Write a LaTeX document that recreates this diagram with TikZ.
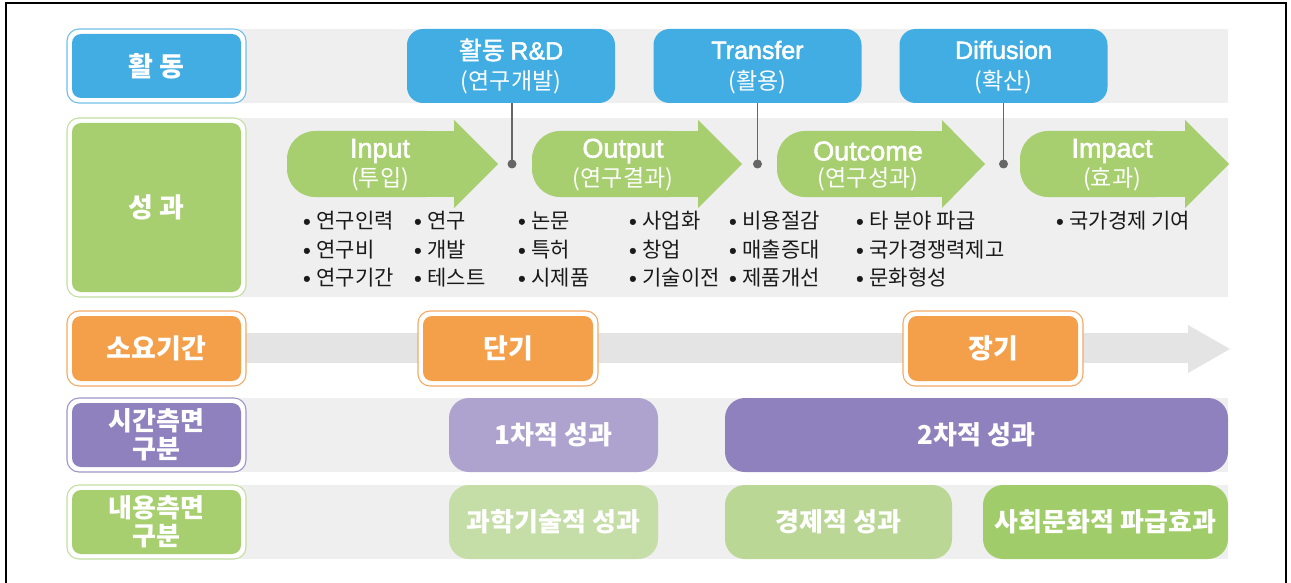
\documentclass[tikz,border=0pt]{standalone}
\usepackage{fontspec}
\setmainfont{Noto Sans CJK KR}
\newfontfamily\lat{Liberation Sans}[FakeBold=2]
\newfontfamily\krm{Noto Sans CJK KR}[FakeBold=1.5]
\definecolor{cblue}{HTML}{42ADE2}
\definecolor{cbluel}{HTML}{6FBFE8}
\definecolor{cgreen}{HTML}{A7CF70}
\definecolor{cgreenl}{HTML}{C3DEA2}
\definecolor{corange}{HTML}{F4A04B}
\definecolor{corangel}{HTML}{F2AA66}
\definecolor{cpurple}{HTML}{8E81BD}
\definecolor{cpurplel}{HTML}{9F95C8}
\definecolor{cpurplelt}{HTML}{ADA3CE}
\definecolor{cgreenpale}{HTML}{C5DDA6}
\definecolor{cgreenmid}{HTML}{BAD795}
\definecolor{cgreenstr}{HTML}{A1CC6A}
\definecolor{cband}{HTML}{EFEFEF}
\definecolor{carrowgray}{HTML}{E4E4E4}
\definecolor{cline}{HTML}{666666}
\definecolor{ctext}{HTML}{1A1A1A}
\newcommand\hdrfont{\fontsize{27}{30}\selectfont\bfseries}
\newcommand\twofont{\fontsize{26}{28}\selectfont\bfseries}
\newcommand\catfont{\fontsize{26}{30}\selectfont\bfseries}
\newcommand\bulfont{\fontsize{21}{25}\selectfont}
\newcommand\boxtopfont{\fontsize{25}{30}\selectfont}
\newcommand\boxsubfont{\fontsize{23}{27}\selectfont}
\newcommand\arrlfont{\fontsize{27}{32}\selectfont}
\newcommand\garrow[3]{%
  \fill[cgreen, rounded corners=28pt] (#1,131) rectangle (#2,197);
  \fill[cgreen] (#2-30,131) rectangle (#2,197);
  \fill[cgreen] (#2,120) -- (#3,164) -- (#2,208) -- cycle;}
\begin{document}
\begin{tikzpicture}[x=1pt,y=-1pt,
  labo/.style={draw=#1, fill=white, line width=1.1pt, rounded corners=12pt, minimum width=179pt, minimum height=74pt, inner sep=0pt},
  labi/.style={fill=#1, rounded corners=9pt, minimum width=169pt, minimum height=64pt, inner sep=0pt, text=white, align=center, font=\hdrfont},
  bluebox/.style={fill=cblue, rounded corners=16pt, minimum width=208pt, minimum height=74pt, inner sep=0pt},
  wtext/.style={text=white, inner sep=0pt},
  bul/.style={anchor=west, inner sep=0pt, text=ctext, font=\bulfont},
  dotn/.style={circle, fill=cline, minimum size=9pt, inner sep=0pt},
  conn/.style={draw=cline, line width=1.5pt},
  catbox/.style={rounded corners=20pt, minimum height=74pt, inner sep=0pt, text=white, font=\catfont}
]
\useasboundingbox (0,0) rectangle (1291,583);
% frame
\draw[line width=2pt] (5.5,583) -- (5.5,3.5) -- (1286,3.5) -- (1286,583);

% bands
\fill[cband] (240,29) rectangle (1228,103);
\fill[cband] (240,118) rectangle (1228,297);
\fill[cband] (240,398) rectangle (1228,472);
\fill[cband] (240,485) rectangle (1228,559);
% gray time arrow
\fill[carrowgray] (240,333) rectangle (1189,363);
\fill[carrowgray] (1188,325) -- (1230,349) -- (1188,373) -- cycle;

% row labels
\node[labo=cbluel] (l1o) at (156.5,66) {};
\node[labi=cblue] (l1) at (156.5,66) {활 동};
\node[labo=cgreenl, minimum height=179pt] (l2o) at (156.5,207.5) {};
\node[labi=cgreen, minimum height=169pt] (l2) at (156.5,207.5) {성 과};
\node[labo=corangel, minimum height=75pt] (l3o) at (156.5,348.5) {};
\node[labi=corange, minimum height=65pt] (l3) at (156.5,348.5) {소요기간};
\node[labo=cpurplel] (l4o) at (156.5,435) {};
\node[labi=cpurple, font=\twofont] (l4) at (156.5,435) {시간측면\\구분};
\node[labo=cgreenl] (l5o) at (156.5,522) {};
\node[labi=cgreen, font=\twofont] (l5) at (156.5,522) {내용측면\\구분};

% activity boxes
\node[bluebox] (rd) at (511,66) {};
\node[wtext, font=\boxtopfont] (rdt) at (511,50) {{\krm 활동} {\lat R\&D}};
\node[wtext, font=\boxsubfont] (rds) at (511,82) {(연구개발)};
\node[bluebox] (tr) at (757.5,66) {};
\node[wtext, font=\boxtopfont\lat] (trt) at (757.5,50) {Transfer};
\node[wtext, font=\boxsubfont] (trs) at (757.5,82) {(활용)};
\node[bluebox] (df) at (1003.5,66) {};
\node[wtext, font=\boxtopfont\lat] (dft) at (1003.5,50) {Diffusion};
\node[wtext, font=\boxsubfont] (dfs) at (1003.5,82) {(확산)};

% green arrows
\garrow{287}{454}{498}
\garrow{532}{698}{742}
\garrow{777}{942}{985}
\garrow{1020}{1185}{1229}
\node[wtext, font=\arrlfont\lat] (inp) at (380,151) {Input};
\node[wtext, font=\boxsubfont] (inps) at (380,179) {(투입)};
\node[wtext, font=\arrlfont\lat] (outp) at (623,151) {Output};
\node[wtext, font=\boxsubfont] (outps) at (623,179) {(연구결과)};
\node[wtext, font=\arrlfont\lat] (outc) at (868,151) {Outcome};
\node[wtext, font=\boxsubfont] (outcs) at (868,179) {(연구성과)};
\node[wtext, font=\arrlfont\lat] (imp) at (1112,151) {Impact};
\node[wtext, font=\boxsubfont] (imps) at (1112,179) {(효과)};

% connectors
\node[dotn] (d1) at (512,164) {};
\node[dotn] (d2) at (757.5,164) {};
\node[dotn] (d3) at (1003.5,164) {};
\draw[conn] (rd.south -| d1) -- (d1.center);
\draw[conn] (tr.south -| d2) -- (d2.center);
\draw[conn] (df.south -| d3) -- (d3.center);

% bullets
\node[bul] (b11) at (303,221) {{\lat •\ }연구인력};
\node[bul] (b12) at (303,250) {{\lat •\ }연구비};
\node[bul] (b13) at (303,278) {{\lat •\ }연구기간};
\node[bul] (b21) at (414,221) {{\lat •\ }연구};
\node[bul] (b22) at (414,250) {{\lat •\ }개발};
\node[bul] (b23) at (414,278) {{\lat •\ }테스트};
\node[bul] (b31) at (518,221) {{\lat •\ }논문};
\node[bul] (b32) at (518,250) {{\lat •\ }특허};
\node[bul] (b33) at (518,278) {{\lat •\ }시제품};
\node[bul] (b41) at (629,221) {{\lat •\ }사업화};
\node[bul] (b42) at (629,250) {{\lat •\ }창업};
\node[bul] (b43) at (629,278) {{\lat •\ }기술이전};
\node[bul] (b51) at (729,221) {{\lat •\ }비용절감};
\node[bul] (b52) at (729,250) {{\lat •\ }매출증대};
\node[bul] (b53) at (729,278) {{\lat •\ }제품개선};
\node[bul] (b61) at (856,221) {{\lat •\ }타 분야 파급};
\node[bul] (b62) at (856,250) {{\lat •\ }국가경쟁력제고};
\node[bul] (b63) at (856,278) {{\lat •\ }문화형성};
\node[bul] (b71) at (1056,221) {{\lat •\ }국가경제 기여};

% duration boxes
\node[labo=corangel, minimum width=180pt, minimum height=75pt] (sho) at (508,348.5) {};
\node[labi=corange, minimum width=170pt, minimum height=65pt] (sh) at (508,348.5) {단기};
\node[labo=corangel, minimum width=180pt, minimum height=75pt] (lgo) at (993,348.5) {};
\node[labi=corange, minimum width=170pt, minimum height=65pt] (lg) at (993,348.5) {장기};

% time-based outcome boxes
\node[catbox, fill=cpurplelt, minimum width=209pt] (p1) at (553.5,435) {1차적 성과};
\node[catbox, fill=cpurple, minimum width=503pt] (p2) at (976.5,435) {2차적 성과};

% content-based outcome boxes
\node[catbox, fill=cgreenpale, minimum width=209pt] (c1) at (553.5,522) {과학기술적 성과};
\node[catbox, fill=cgreenmid, minimum width=227pt] (c2) at (838.5,522) {경제적 성과};
\node[catbox, fill=cgreenstr, minimum width=245pt] (c3) at (1105.5,522) {사회문화적 파급효과};
\end{tikzpicture}
\end{document}
